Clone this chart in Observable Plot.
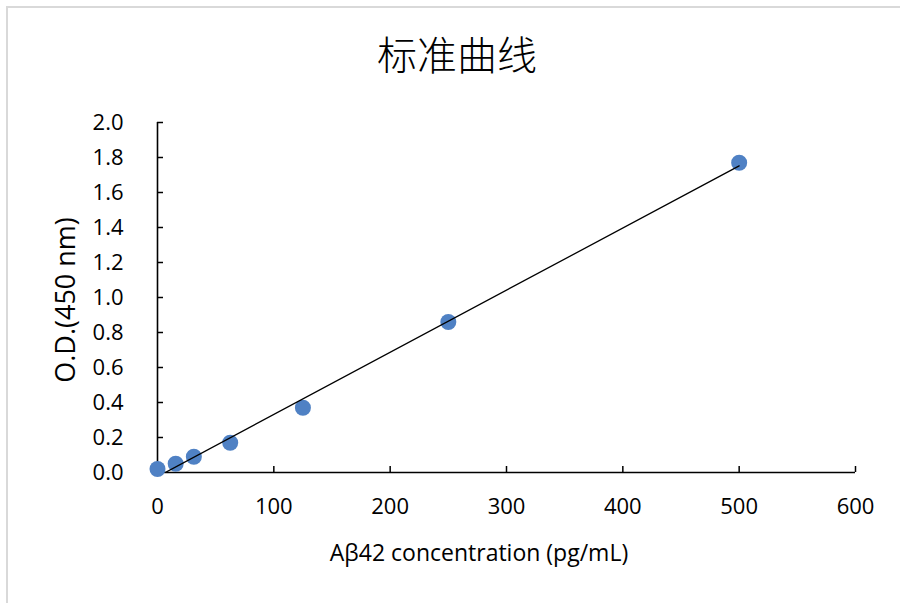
<!DOCTYPE html>
<html>
<head>
<meta charset="utf-8">
<script src="https://cdn.jsdelivr.net/npm/d3@7"></script>
<script src="https://cdn.jsdelivr.net/npm/@observablehq/plot@0.6"></script>
<style>
  html, body { margin: 0; padding: 0; background: #fff; }
  #wrap { position: relative; width: 900px; height: 603px; overflow: hidden; }
  #title { position: absolute; left: 0; width: 914px; top: 31px; text-align: center;
           font-family: "Noto Sans CJK SC", sans-serif; font-weight: 300; font-size: 40px; color: #000; line-height: 1.1; }
</style>
</head>
<body>
<div id="wrap"><div id="title">标准曲线</div></div>
<script>
const concentration = [0, 15.625, 31.25, 62.5, 125, 250, 500];
const od = [0.02, 0.05, 0.09, 0.17, 0.37, 0.86, 1.77];
const xTicks = [0, 100, 200, 300, 400, 500, 600];
const yTicks = [0, 0.2, 0.4, 0.6, 0.8, 1.0, 1.2, 1.4, 1.6, 1.8, 2.0];
const titleText = "标准曲线";
const xLabel = "Aβ42 concentration (pg/mL)";
const yLabel = "O.D.(450 nm)";

const data = concentration.map((c, i) => ({c, od: od[i]}));

const W = 900, H = 603;
const mL = 157, mR = 45, mT = 122, mB = 131;
const fw = W - mL - mR, fh = H - mT - mB;

const plot = Plot.plot({
  width: W, height: H,
  marginLeft: mL, marginRight: mR, marginTop: mT, marginBottom: mB,
  style: {fontFamily: "'Open Sans', sans-serif", fontSize: "22px", color: "#000", background: "transparent", overflow: "visible"},
  x: {domain: [0, 600]},
  y: {domain: [0, 2]},
  marks: [
    Plot.axisX(xTicks, {tickSize: 0, tickPadding: 26, label: null, fontSize: 22}),
    Plot.axisY(yTicks, {tickSize: 0, tickPadding: 34, label: null, tickFormat: d3.format(".1f"), fontSize: 22}),
    Plot.tickX(xTicks, {x: d => d, insetTop: fh - 6, stroke: "#000", strokeWidth: 1.5}),
    Plot.tickY(yTicks, {y: d => d, insetRight: fw - 6, stroke: "#000", strokeWidth: 1.5}),
    Plot.ruleY([0], {stroke: "#000", strokeWidth: 1.6}),
    Plot.ruleX([0], {stroke: "#000", strokeWidth: 1.6}),
    Plot.dot(data, {x: "c", y: "od", r: 8, fill: "#4f81c4", stroke: null}),
    Plot.linearRegressionY(data, {x: "c", y: "od", ci: 0, stroke: "#000", strokeWidth: 1.3, clip: true})
  ]
});

const svg = d3.select(plot);
svg.insert("rect", ":first-child")
  .attr("x", 7).attr("y", 7).attr("width", 920).attr("height", 620)
  .attr("fill", "none").attr("stroke", "#d9d9d9").attr("stroke-width", 2);
svg.append("text")
  .attr("x", 479).attr("y", 561)
  .attr("text-anchor", "middle")
  .attr("font-family", "'Open Sans', sans-serif").attr("font-size", 23)
  .attr("fill", "#000")
  .text(xLabel);
svg.append("text")
  .attr("transform", `translate(75,${mT + fh / 2 + 3}) rotate(-90)`)
  .attr("text-anchor", "middle")
  .attr("font-family", "'Open Sans', sans-serif").attr("font-size", 27)
  .attr("fill", "#000")
  .text(yLabel);

plot.style.position = "absolute";
plot.style.left = "0px";
plot.style.top = "0px";
document.getElementById("wrap").appendChild(plot);
document.getElementById("title").textContent = titleText;
</script>
</body>
</html>
